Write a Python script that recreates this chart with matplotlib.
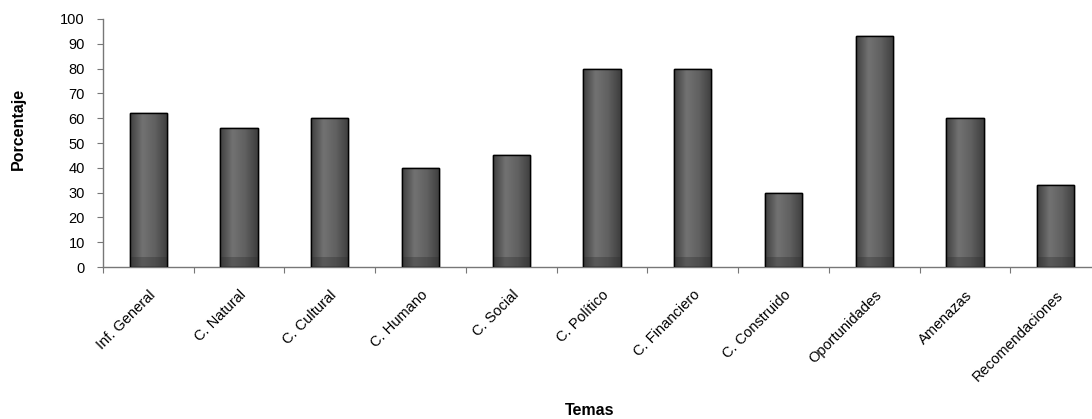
import numpy as np
import matplotlib
matplotlib.use("Agg")
import matplotlib.pyplot as plt
from matplotlib.colors import LinearSegmentedColormap

categorias = ["Inf. General", "C. Natural", "C. Cultural", "C. Humano", "C. Social",
              "C. Político", "C. Financiero", "C. Construido", "Oportunidades",
              "Amenazas", "Recomendaciones"]
porcentajes = [62, 56, 60, 40, 45, 80, 80, 30, 93, 60, 33]
yticks = list(range(0, 101, 10))

plt.rcParams["font.family"] = ["Liberation Sans", "DejaVu Sans"]

W, H = 1092, 419
fig = plt.figure(figsize=(W / 100, H / 100), dpi=100)
ax = fig.add_axes([103 / W, 1 - 267 / H, 998 / W, 248 / H])

x = np.arange(len(categorias))
bars = ax.bar(x, porcentajes, width=0.41, color="#5a5a5a", edgecolor="black",
              linewidth=1.0, zorder=2)

# horizontal shading inside each bar
cmap = LinearSegmentedColormap.from_list("gris", ["#404040", "#727272", "#606060", "#3e3e3e"])
grad = np.linspace(0, 1, 64).reshape(1, -1)
for b in bars:
    x0, y0 = b.get_x(), b.get_y()
    w, h = b.get_width(), b.get_height()
    im = ax.imshow(grad, extent=(x0, x0 + w, y0, y0 + h), aspect="auto",
                   cmap=cmap, zorder=2.5, interpolation="bicubic")
    im.set_clip_path(b)
    # darker band near the base
    ax.fill_between([x0, x0 + w], 0, min(4, h), color="#2e2e2e", alpha=0.35,
                    zorder=2.6, linewidth=0)
    ax.add_patch(plt.Rectangle((x0, y0), w, h, fill=False, edgecolor="black",
                               linewidth=1.0, zorder=3))

ax.set_xlim(-0.5, len(categorias) - 0.5)
ax.set_ylim(0, 100)
ax.set_yticks(yticks)
ax.tick_params(axis="y", labelsize=10.5, length=4, color="#777777", pad=9)

ax.set_xticks(np.arange(-0.5, len(categorias), 1.0))
ax.set_xticklabels([])
ax.tick_params(axis="x", which="major", length=4, color="#777777")
ax.set_xticks(x, minor=True)
ax.set_xticklabels(categorias, minor=True, rotation=45, ha="right",
                   rotation_mode="anchor", fontsize=10.5)
ax.tick_params(axis="x", which="minor", length=0, pad=15)

for s in ("top", "right"):
    ax.spines[s].set_visible(False)
for s in ("left", "bottom"):
    ax.spines[s].set_color("#777777")
    ax.spines[s].set_linewidth(1.0)

ax.set_ylabel("Porcentaje", fontsize=11.5, fontweight="bold")
ax.yaxis.set_label_coords((18 - 103) / 998, (267 - 129) / 248)
ax.set_xlabel("Temas", fontsize=11.5, fontweight="bold")
ax.xaxis.set_label_coords((590 - 103) / 998, (267 - 410) / 248)
ax.xaxis.label.set_va("center")
ax.yaxis.label.set_va("center")

fig.savefig("out.png", dpi=100, facecolor="white")
